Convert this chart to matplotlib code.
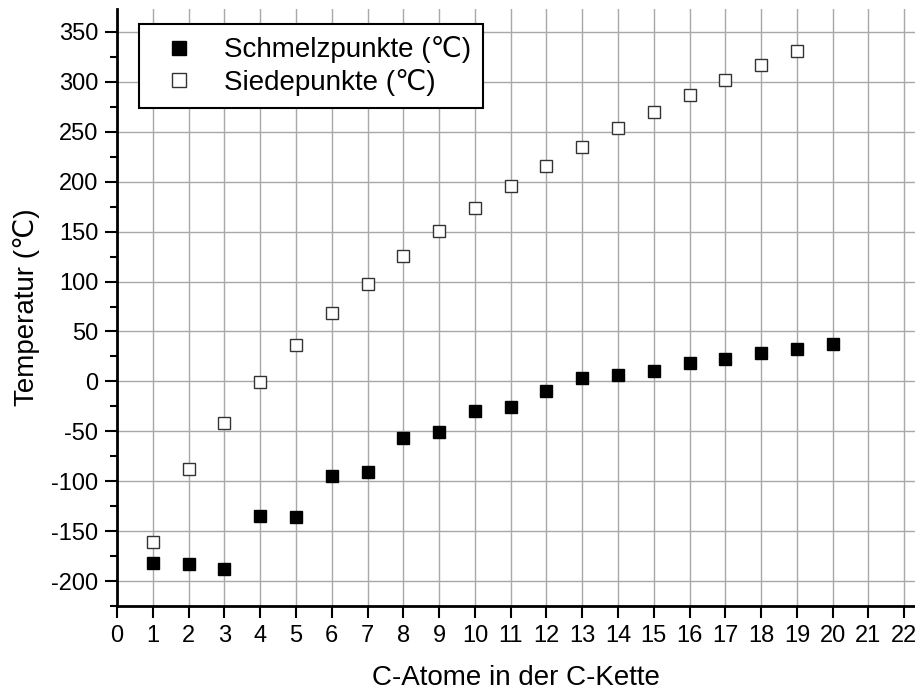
import matplotlib
matplotlib.use('Agg')
import matplotlib.pyplot as plt
from matplotlib.ticker import MultipleLocator

plt.rcParams['font.family'] = ['Liberation Sans', 'DejaVu Sans']
plt.rcParams['axes.unicode_minus'] = False

# Alkane C1..C20 melting points, C1..C19 boiling points
c_melt = list(range(1, 21))
schmelz = [-182, -183, -188, -135, -136, -95, -91, -57, -51, -30,
           -26, -10, 3, 6, 10, 18, 22, 28, 32, 37]
c_boil = list(range(1, 20))
siede = [-161, -88, -42, -1, 36, 69, 98, 126, 151, 174,
         196, 216, 235, 254, 270, 287, 302, 317, 331]

fig = plt.figure(figsize=(9.15, 6.93), dpi=100)
ax = fig.add_axes([0.128, 0.1255, 0.872, 0.8615])

ax.plot(c_melt, schmelz, 's', color='black', markersize=8.5, linestyle='none',
        label='Schmelzpunkte (℃)', zorder=3)
ax.plot(c_boil, siede, 's', markerfacecolor='white', markeredgecolor='#333333',
        markeredgewidth=1.0, markersize=8.5, linestyle='none',
        label='Siedepunkte (℃)', zorder=3)

ax.set_xlim(0, 22.3)
ax.set_ylim(-225, 373)
ax.xaxis.set_major_locator(MultipleLocator(1))
ax.yaxis.set_major_locator(MultipleLocator(50))
ax.yaxis.set_minor_locator(MultipleLocator(25))

ax.grid(True, which='major', color='#a8a8a8', linewidth=1.0)
ax.set_axisbelow(True)
for s in ['top', 'right']:
    ax.spines[s].set_visible(False)
for s in ['left', 'bottom']:
    ax.spines[s].set_linewidth(2)

ax.tick_params(axis='both', which='major', direction='out', length=8.5, width=1.5,
               labelsize=17, pad=5)
ax.tick_params(axis='y', which='minor', direction='out', length=5, width=1.5)

ax.set_xlabel('C-Atome in der C-Kette', fontsize=20, labelpad=13)
ax.set_ylabel('Temperatur (℃)', fontsize=20, labelpad=8)

leg = ax.legend(loc='upper left', bbox_to_anchor=(0.0276, 0.975), fontsize=20,
                frameon=True, fancybox=False, framealpha=1, edgecolor='black',
                handletextpad=0.6, borderpad=0.45, labelspacing=0.2,
                borderaxespad=0, markerscale=1.25)
leg.get_frame().set_linewidth(1.5)

fig.savefig('out.png', dpi=100)
